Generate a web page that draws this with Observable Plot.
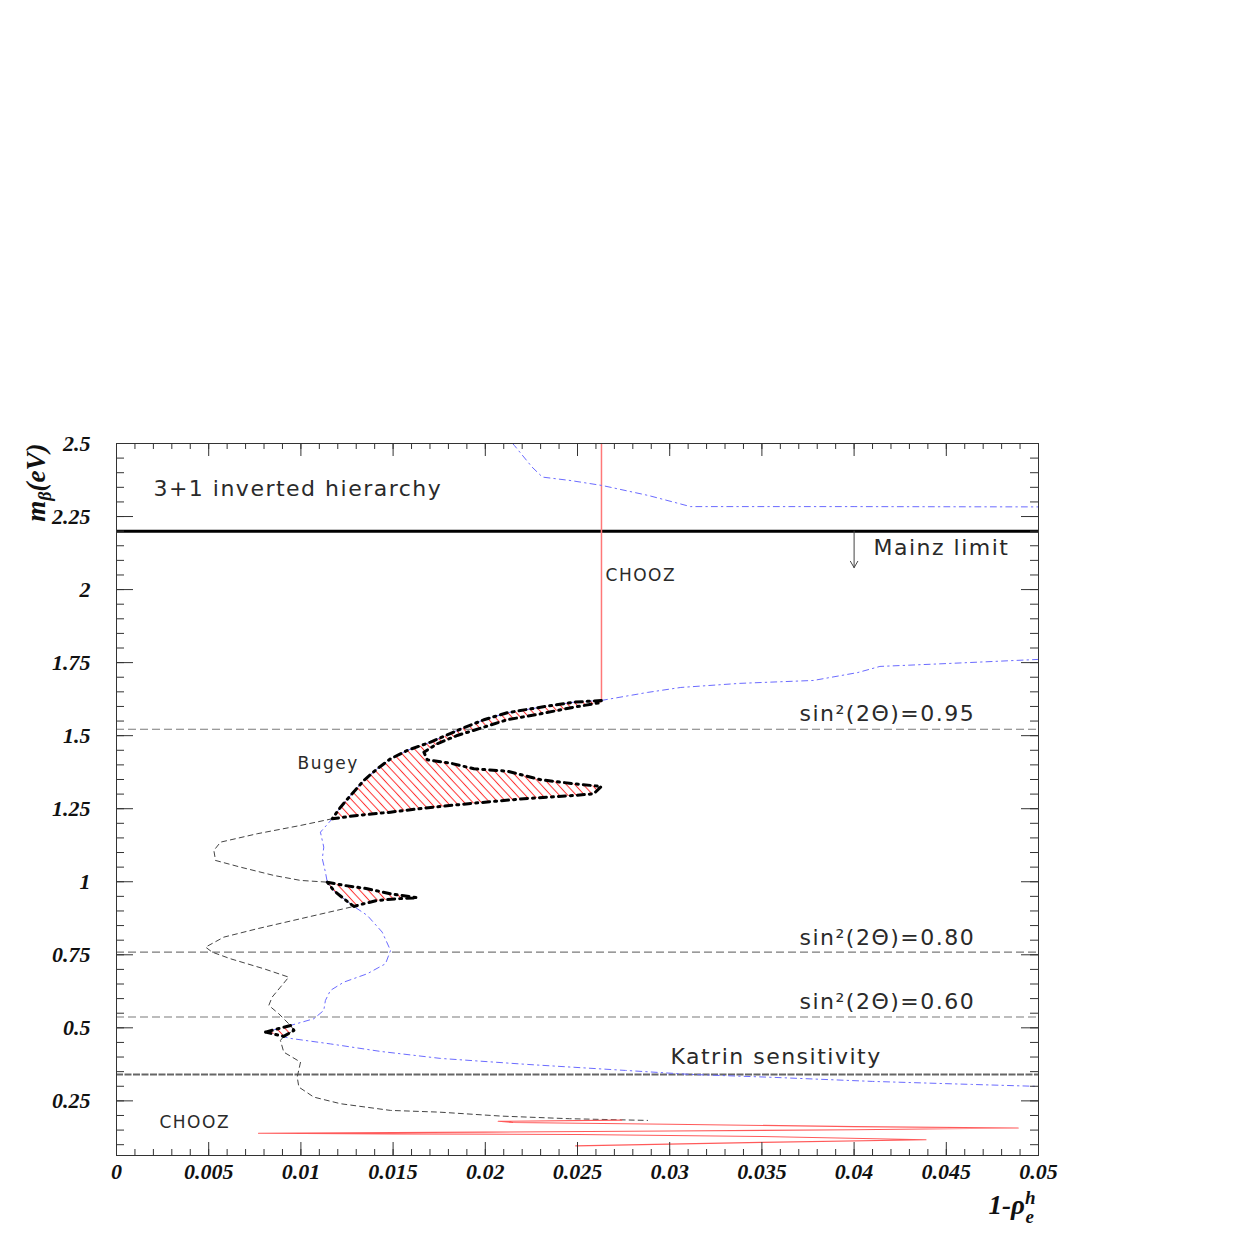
<!DOCTYPE html>
<html>
<head>
<meta charset="utf-8">
<script src="https://cdn.jsdelivr.net/npm/d3@7"></script>
<script src="https://cdn.jsdelivr.net/npm/@observablehq/plot@0.6"></script>
<style>
  html, body { margin: 0; padding: 0; background: #fff; }
  #chart svg { display: block; }
</style>
</head>
<body>
<div id="chart"></div>
<script>
// ---------------- data ----------------
const xMajorTicks = [0, 0.005, 0.01, 0.015, 0.02, 0.025, 0.03, 0.035, 0.04, 0.045, 0.05];
const xTickLabels = ["0", "0.005", "0.01", "0.015", "0.02", "0.025", "0.03", "0.035", "0.04", "0.045", "0.05"];
const xMinorTicks = d3.range(1, 50).map(i => i / 1000);
const yMajorTicks = [0.25, 0.5, 0.75, 1, 1.25, 1.5, 1.75, 2, 2.25, 2.5];
const yTickLabels = ["0.25", "0.5", "0.75", "1", "1.25", "1.5", "1.75", "2", "2.25", "2.5"];
const yMinorTicks = d3.range(2, 50).map(i => i / 20);

const xDomain = [0, 0.05];
const yDomain = [0.063, 2.5];

const mainzLimit = 2.2;
const mainzArrow = [{x: 0.04, from: 2.2, to: 2.075}];
const sinLevels = [1.522, 0.759, 0.537];
const katrinLimit = 0.34;
const choozX = 0.0263, choozYTop = 2.5, choozYBottom = 1.62;

// blue dash-dot curve, upper branch
const blueTop = [[0.02148, 2.5], [0.02158, 2.493], [0.02254, 2.419], [0.0231, 2.385], [0.02465, 2.373],
  [0.02636, 2.356], [0.02885, 2.322], [0.03113, 2.284], [0.04, 2.284], [0.05, 2.283]];

// blue dash-dot curve, lower branch
const blueMain = [[0.05, 1.761], [0.0451, 1.747], [0.0414, 1.737], [0.0402, 1.716], [0.0378, 1.689],
  [0.0338, 1.679], [0.0306, 1.665], [0.0288, 1.648], [0.02629, 1.6205],
  [0.0248, 1.6146], [0.0230, 1.5975], [0.02119, 1.5784], [0.01992, 1.5544], [0.01848, 1.5178],
  [0.01703, 1.4778], [0.01576, 1.4493], [0.01486, 1.4209], [0.01414, 1.3867], [0.01341, 1.3467],
  [0.01269, 1.2953], [0.01215, 1.2553], [0.0117, 1.2156],
  [0.01106, 1.1697], [0.01124, 1.1184], [0.01116, 1.0787], [0.01133, 1.0329], [0.01143, 0.9986],
  [0.01178, 0.9702], [0.01233, 0.9418], [0.01287, 0.9155],
  [0.0136, 0.8847], [0.01441, 0.8275], [0.01486, 0.7649], [0.01459, 0.7194], [0.0136, 0.6851],
  [0.01233, 0.6564], [0.0116, 0.628], [0.01133, 0.5938], [0.01124, 0.5596], [0.0107, 0.5311],
  [0.00944, 0.5082], [0.00808, 0.4853],
  [0.00944, 0.4637], [0.01161, 0.4449], [0.01432, 0.4192], [0.01757, 0.3953], [0.02229, 0.3747],
  [0.0276, 0.3542], [0.03113, 0.3405], [0.03568, 0.3303], [0.041, 0.3166], [0.04637, 0.3063], [0.05, 0.2995]];

// black dashed curve
const blackDashed = [[0.0117, 1.2156], [0.00998, 1.1927], [0.00763, 1.1643], [0.00564, 1.1355],
  [0.00528, 1.1071], [0.00537, 1.0729], [0.00672, 1.05], [0.00853, 1.0216], [0.00998, 1.0045], [0.01143, 0.9986],
  [0.01178, 0.9702], [0.01233, 0.9418], [0.01287, 0.9155],
  [0.00998, 0.8734], [0.00763, 0.8391], [0.00582, 0.8104], [0.00483, 0.7762], [0.00519, 0.7591],
  [0.00618, 0.7364], [0.00799, 0.7022], [0.00934, 0.6735], [0.00889, 0.6393], [0.00844, 0.6051],
  [0.00826, 0.5767], [0.0088, 0.5482], [0.00934, 0.514], [0.00944, 0.5082],
  [0.00962, 0.4911], [0.00907, 0.4706], [0.00889, 0.4569], [0.00907, 0.4168], [0.00998, 0.3826],
  [0.0098, 0.3313], [0.00989, 0.2971], [0.0107, 0.2629], [0.01215, 0.2402], [0.01486, 0.2173],
  [0.01749, 0.2115], [0.02088, 0.1978], [0.02457, 0.1889], [0.0288, 0.1831]];

// CHOOZ (lower) red contour
const choozLower = [[0.0274, 0.184], [0.0207, 0.18], [0.0215, 0.176], [0.03, 0.17], [0.04, 0.162],
  [0.0489, 0.157], [0.04, 0.151], [0.03, 0.147], [0.02, 0.143], [0.0077, 0.139], [0.015, 0.137],
  [0.025, 0.135], [0.035, 0.128], [0.0439, 0.117], [0.035, 0.108], [0.0249, 0.096]];

// Bugey allowed regions
const bugeyBig = [[0.02629, 1.6205], [0.0248, 1.6146], [0.023, 1.5975], [0.02119, 1.5784], [0.01992, 1.5544],
  [0.01848, 1.5178], [0.01703, 1.4778], [0.01576, 1.4493], [0.01486, 1.4209], [0.01414, 1.3867],
  [0.01341, 1.3467], [0.01269, 1.2953], [0.01215, 1.2553], [0.0117, 1.2156],
  [0.01305, 1.2269], [0.01486, 1.2382], [0.01667, 1.2519], [0.01938, 1.269], [0.02209, 1.284],
  [0.0248, 1.2953], [0.02588, 1.3011], [0.02629, 1.3261],
  [0.0248, 1.3354], [0.023, 1.3491], [0.02209, 1.3638], [0.02119, 1.3785], [0.01938, 1.3867],
  [0.01811, 1.4059], [0.01685, 1.4175], [0.01667, 1.4435], [0.01739, 1.4723], [0.01848, 1.5007],
  [0.01992, 1.5291], [0.02119, 1.5544], [0.023, 1.5749], [0.0248, 1.5975], [0.02629, 1.6136], [0.02629, 1.6205]];
const bugeySmall = [[0.01143, 0.9986], [0.01233, 0.9877], [0.0136, 0.9761], [0.01486, 0.9589], [0.01631, 0.9452],
  [0.01522, 0.9418], [0.01414, 0.936], [0.01341, 0.9247], [0.01287, 0.9155], [0.01233, 0.9418],
  [0.01178, 0.9702], [0.01143, 0.9986]];
const bugeyBlob = [[0.00808, 0.4853], [0.00944, 0.5082], [0.00962, 0.4911], [0.00907, 0.4706], [0.00808, 0.4853]];

// annotations
const bigLabels = ["3+1 inverted hierarchy", "Mainz limit", "sin²(2Θ)=0.95", "sin²(2Θ)=0.80", "sin²(2Θ)=0.60", "Katrin sensitivity"];
const bigLabelX = [0.002, 0.04105, 0.03704, 0.03704, 0.03704, 0.03004];
const bigLabelY = [2.343, 2.144, 1.573, 0.809, 0.590, 0.402];
const smallLabels = ["CHOOZ", "Bugey", "CHOOZ"];
const smallLabelX = [0.02652, 0.00982, 0.00233];
const smallLabelY = [2.048, 1.405, 0.176];
const yTitle = "mβ(eV)";
const xTitle = "1-ρeh";

// ---------------- chart ----------------
const W = 1246, H = 1246;
const mT = 443, mB = 91, mL = 116, mR = 208;
const plotH = H - mT - mB;
const plotW = W - mL - mR;
const serif = "'Liberation Serif', 'Times New Roman', serif";
const sans = "'DejaVu Sans', sans-serif";
const xy = {x: d => d[0], y: d => d[1]};
const blueStyle = {stroke: "#6b6bff", strokeWidth: 1, strokeDasharray: "6,4,1.5,4"};
const outlineStyle = {stroke: "#000", strokeWidth: 3, strokeDasharray: "7,5,2,5", fill: "url(#hatch)"};

const chart = Plot.plot({
  width: W, height: H,
  marginTop: mT, marginBottom: mB, marginLeft: mL, marginRight: mR,
  x: {domain: xDomain},
  y: {domain: yDomain},
  style: {background: "#fff", color: "#333", overflow: "visible"},
  marks: [
    Plot.ruleY(sinLevels, {stroke: "#7a7a7a", strokeWidth: 1.1, strokeDasharray: "8,4"}),
    Plot.ruleY([katrinLimit], {stroke: "#666", strokeWidth: 2, strokeDasharray: "7,1.5"}),
    Plot.ruleY([mainzLimit], {stroke: "#000", strokeWidth: 3}),
    Plot.ruleX([choozX], {y1: choozYBottom, y2: choozYTop, stroke: "#ff7878", strokeWidth: 1.5}),
    Plot.line(blueTop, {...xy, ...blueStyle}),
    Plot.line(blackDashed, {...xy, stroke: "#444", strokeWidth: 1, strokeDasharray: "5,4"}),
    Plot.line(blueMain, {...xy, ...blueStyle}),
    Plot.line(choozLower, {...xy, stroke: "#ff5a5a", strokeWidth: 1.1}),
    Plot.line(bugeyBig, {...xy, ...outlineStyle}),
    Plot.line(bugeySmall, {...xy, ...outlineStyle}),
    Plot.line(bugeyBlob, {...xy, ...outlineStyle}),
    Plot.arrow(mainzArrow, {x1: "x", x2: "x", y1: "from", y2: "to", stroke: "#444", strokeWidth: 1, headLength: 11, headAngle: 60}),
    // ticks (inside the frame, ROOT style)
    Plot.tickX(xMajorTicks, {x: d => d, insetTop: plotH - 13, stroke: "#333"}),
    Plot.tickX(xMinorTicks, {x: d => d, insetTop: plotH - 6, stroke: "#333"}),
    Plot.tickX(xMajorTicks, {x: d => d, insetBottom: plotH - 13, stroke: "#333"}),
    Plot.tickX(xMinorTicks, {x: d => d, insetBottom: plotH - 6, stroke: "#333"}),
    Plot.tickY(yMajorTicks, {y: d => d, insetRight: plotW - 17, stroke: "#333"}),
    Plot.tickY(yMinorTicks, {y: d => d, insetRight: plotW - 8, stroke: "#333"}),
    Plot.tickY(yMajorTicks, {y: d => d, insetLeft: plotW - 17, stroke: "#333"}),
    Plot.tickY(yMinorTicks, {y: d => d, insetLeft: plotW - 8, stroke: "#333"}),
    Plot.frame({stroke: "#333"}),
    Plot.axisX({ticks: xMajorTicks, tickSize: 0, tickPadding: 8, label: null,
      tickFormat: d => xTickLabels[xMajorTicks.indexOf(d)],
      fontFamily: serif, fontSize: 22, fontWeight: "bold", fontStyle: "italic", fill: "#111"}),
    Plot.axisY({ticks: yMajorTicks, tickSize: 0, tickPadding: 26, label: null,
      tickFormat: d => yTickLabels[yMajorTicks.indexOf(d)],
      fontFamily: serif, fontSize: 22, fontWeight: "bold", fontStyle: "italic", fill: "#111"}),
    // annotations
    Plot.text(bigLabels, {x: (d, i) => bigLabelX[i], y: (d, i) => bigLabelY[i], text: d => d,
      textAnchor: "start", fontFamily: sans, fontSize: 22, fill: "#2a2a2a"}),
    Plot.text(smallLabels, {x: (d, i) => smallLabelX[i], y: (d, i) => smallLabelY[i], text: d => d,
      textAnchor: "start", fontFamily: sans, fontSize: 17, fill: "#2a2a2a"}),
    Plot.text([yTitle], {frameAnchor: "top-left", text: d => d, rotate: -90, textAnchor: "end",
      dx: -91, dy: 0, fontFamily: serif, fontSize: 27, fontWeight: "bold", fontStyle: "italic", fill: "#111"}),
    Plot.text([xTitle], {frameAnchor: "bottom-right", text: d => d, textAnchor: "start",
      dx: -50, dy: 58, fontFamily: serif, fontSize: 27, fontWeight: "bold", fontStyle: "italic", fill: "#111"})
  ]
});

// hatch pattern for the Bugey regions
const svg = d3.select(chart);
const defs = svg.insert("defs", ":first-child");
const pat = defs.append("pattern").attr("id", "hatch").attr("patternUnits", "userSpaceOnUse")
  .attr("width", 6.2).attr("height", 6.2).attr("patternTransform", "rotate(-43)");
pat.append("line").attr("x1", 3.1).attr("y1", -1).attr("x2", 3.1).attr("y2", 7.2)
  .attr("stroke", "#ff3030").attr("stroke-width", 1);

// letter spacing of the annotation font
svg.selectAll("text").filter(function () {
  return bigLabels.includes(this.textContent) || smallLabels.includes(this.textContent);
}).style("letter-spacing", "1.5px");

// sub/superscripts in the axis titles
svg.selectAll("text").each(function () {
  const t = d3.select(this);
  if (this.textContent === yTitle) {
    t.text("m");
    t.append("tspan").attr("font-size", 18).attr("dy", 6).text("β");
    t.append("tspan").attr("dy", -6).text("(eV)");
  } else if (this.textContent === xTitle) {
    t.text("1-ρ");
    t.append("tspan").attr("font-size", 19).attr("dy", -10).text("h");
    t.append("tspan").attr("font-size", 19).attr("dx", -10).attr("dy", 19).text("e");
  }
});

document.getElementById("chart").appendChild(chart);
</script>
</body>
</html>
